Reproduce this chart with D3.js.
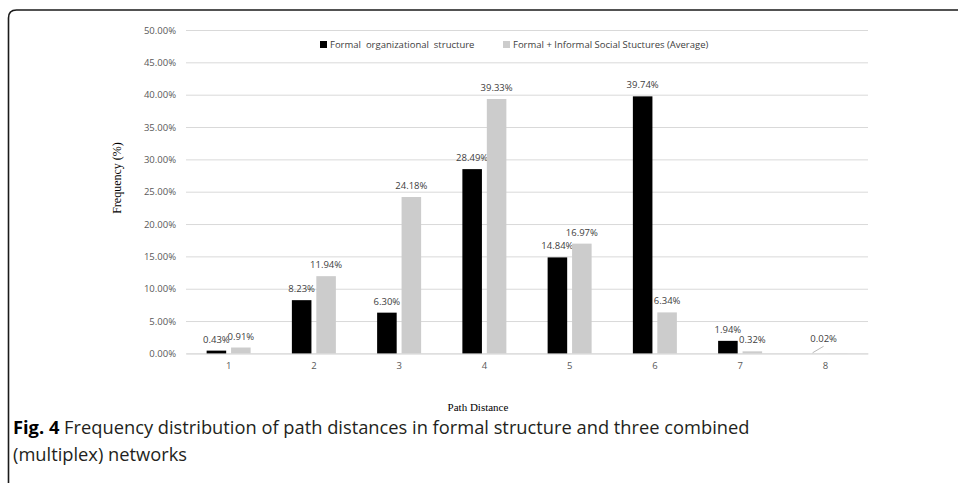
<!DOCTYPE html>
<html>
<head>
<meta charset="utf-8">
<script src="https://cdn.jsdelivr.net/npm/d3@7"></script>
<style>
  body { margin: 0; background: #fff; }
  #canvas { width: 958px; height: 483px; }
</style>
</head>
<body>
<div id="canvas"></div>
<script>
const distances = ["1", "2", "3", "4", "5", "6", "7", "8"];
const formalValues = [0.43, 8.23, 6.30, 28.49, 14.84, 39.74, 1.94, null];
const combinedValues = [0.91, 11.94, 24.18, 39.33, 16.97, 6.34, 0.32, 0.02];
const yTicks = [0, 5, 10, 15, 20, 25, 30, 35, 40, 45, 50];
const seriesNames = ["Formal  organizational  structure", "Formal + Informal Social Stuctures (Average)"];
const seriesColors = ["#000000", "#cccccc"];

const w = 958, h = 483;
const svg = d3.select("#canvas")
  .append("svg")
    .attr("width", w)
    .attr("height", h)
    .attr("viewBox", [0, 0, w, h]);

// frame (top + left rule with rounded corner)
svg.append("path")
  .attr("d", "M8.5,483 L8.5,18 Q8.5,10 16.5,10 L958,10")
  .attr("fill", "none")
  .attr("stroke", "#1a1a1a")
  .attr("stroke-width", 1.6);

const plotL = 186, plotR = 868, plotT = 30, plotB = 353.4;
const labelFont = "'Open Sans', 'Noto Sans', sans-serif";
const smallSize = "9.5px";

const x0 = d3.scaleBand().domain(distances).range([plotL, plotR]);
const x1 = d3.scaleBand()
  .domain([0, 1])
  .range([x0.bandwidth() / 2 - 22, x0.bandwidth() / 2 + 22])
  .paddingInner(0.2);
const y = d3.scaleLinear().domain([0, 50]).range([plotB, plotT]);

// grid
const yAxis = d3.axisLeft(y)
  .tickValues(yTicks)
  .tickSize(-(plotR - plotL))
  .tickPadding(10)
  .tickFormat(d => d.toFixed(2) + "%");
const gY = svg.append("g")
  .attr("transform", "translate(" + plotL + ",0)")
  .call(yAxis);
gY.select(".domain").remove();
gY.selectAll(".tick line").attr("stroke", "#d9d9d9").attr("stroke-width", 1);
gY.selectAll(".tick text")
  .attr("fill", "#595959")
  .style("font-family", labelFont)
  .style("font-size", smallSize);

const xAxis = d3.axisBottom(x0).tickSize(0).tickPadding(9);
const gX = svg.append("g")
  .attr("transform", "translate(0," + plotB + ")")
  .call(xAxis);
gX.select(".domain").attr("stroke", "#d9d9d9");
gX.selectAll(".tick text")
  .attr("fill", "#595959")
  .style("font-family", labelFont)
  .style("font-size", smallSize);

// bars
const series = [formalValues, combinedValues];
series.forEach((vals, s) => {
  const g = svg.append("g");
  const data = distances.map((d, i) => ({ d: d, v: vals[i], i: i })).filter(e => e.v !== null);
  g.selectAll("rect")
    .data(data)
    .enter().append("rect")
      .attr("x", e => x0(e.d) + x1(s))
      .attr("width", x1.bandwidth())
      .attr("y", e => y(e.v))
      .attr("height", e => plotB - y(e.v))
      .attr("fill", seriesColors[s]);

  g.selectAll("text")
    .data(data)
    .enter().append("text")
      .attr("x", e => {
        let cx = x0(e.d) + x1(s) + x1.bandwidth() / 2;
        if (e.v < 0.1) cx -= 14;
        return cx;
      })
      .attr("y", e => e.v < 0.1 ? y(e.v) - 11 : y(e.v) - 8)
      .attr("text-anchor", "middle")
      .attr("fill", "#404040")
      .style("font-family", labelFont)
      .style("font-size", smallSize)
      .text(e => e.v.toFixed(2) + "%");

  // leader line for tiny value
  data.filter(e => e.v < 0.1).forEach(e => {
    const cx = x0(e.d) + x1(s) + x1.bandwidth() / 2;
    g.append("line")
      .attr("x1", cx - 14)
      .attr("y1", y(e.v) - 7)
      .attr("x2", cx - 25)
      .attr("y2", y(e.v) - 0.5)
      .attr("stroke", "#a6a6a6")
      .attr("stroke-width", 0.8);
  });
});

// legend
const legendX = [320, 503];
seriesNames.forEach((name, s) => {
  svg.append("rect")
    .attr("x", legendX[s])
    .attr("y", 41)
    .attr("width", 7)
    .attr("height", 7)
    .attr("fill", seriesColors[s]);
  svg.append("text")
    .attr("x", legendX[s] + 10)
    .attr("y", 48)
    .attr("fill", "#404040")
    .style("font-family", labelFont)
    .style("font-size", smallSize)
    .style("white-space", "pre")
    .text(name);
});

// axis titles
svg.append("text")
  .attr("transform", "translate(121,178) rotate(-90)")
  .attr("text-anchor", "middle")
  .style("font-family", "'Liberation Serif', serif")
  .style("font-size", "12px")
  .text("Frequency (%)");

svg.append("text")
  .attr("x", 478)
  .attr("y", 411)
  .attr("text-anchor", "middle")
  .style("font-family", "'Liberation Serif', serif")
  .style("font-size", "11px")
  .text("Path Distance");

// caption
const capFont = "'Open Sans', sans-serif";
const cap1 = svg.append("text")
  .attr("x", 13)
  .attr("y", 434)
  .attr("fill", "#231f20")
  .style("font-family", capFont)
  .style("font-size", "18.3px");
cap1.append("tspan").attr("font-weight", "bold").attr("fill", "#000").text("Fig. 4");
cap1.append("tspan").text(" Frequency distribution of path distances in formal structure and three combined");

svg.append("text")
  .attr("x", 13)
  .attr("y", 461)
  .attr("fill", "#231f20")
  .style("font-family", capFont)
  .style("font-size", "18.3px")
  .text("(multiplex) networks");
</script>
</body>
</html>
